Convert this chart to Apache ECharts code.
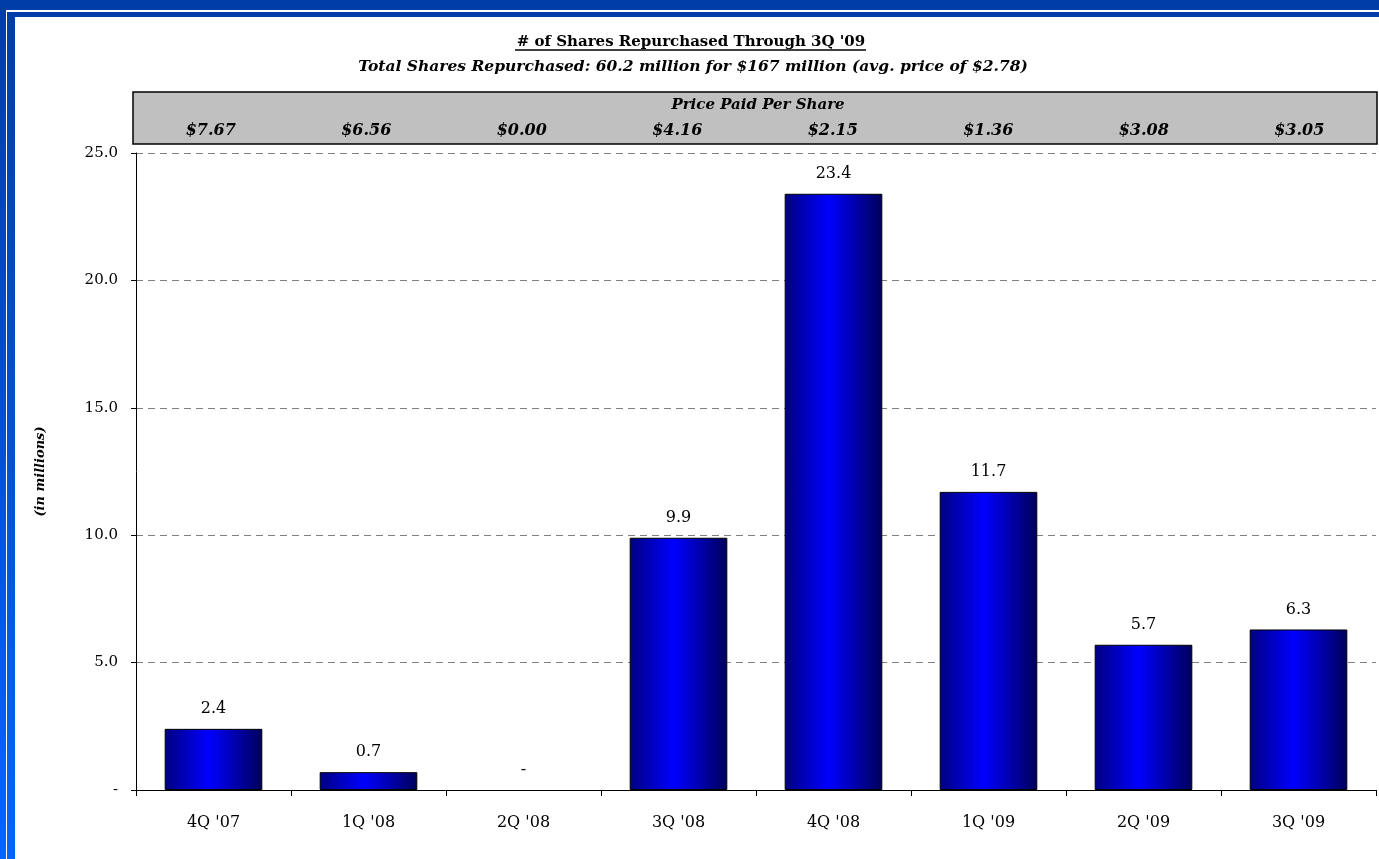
<!DOCTYPE html>
<html>
<head>
<meta charset="utf-8">
<script src="https://cdn.jsdelivr.net/npm/echarts@6/dist/echarts.min.js"></script>
<style>
  html, body { margin: 0; padding: 0; background: #fff; overflow: hidden; }
  #chart { position: absolute; left: 0; top: 0; width: 1379px; height: 859px; }
  .frame { position: absolute; }
</style>
</head>
<body>
<div id="chart"></div>
<!-- slide frame -->
<div class="frame" style="left:0;top:0;width:1379px;height:10px;background:#003da8"></div>
<div class="frame" style="left:7px;top:12px;width:1372px;height:5px;background:#003da8"></div>
<div class="frame" style="left:0;top:10px;width:6px;height:849px;background:linear-gradient(#003da8,#0066ff)"></div>
<div class="frame" style="left:7px;top:12px;width:8px;height:847px;background:linear-gradient(#003da8,#0066ff)"></div>

<script>
// 数据
const quarters = ["4Q '07", "1Q '08", "2Q '08", "3Q '08", "4Q '08", "1Q '09", "2Q '09", "3Q '09"]
const sharesRepurchased = [2.4, 0.7, 0, 9.9, 23.4, 11.7, 5.7, 6.3]
const pricePerShare = ['$7.67', '$6.56', '$0.00', '$4.16', '$2.15', '$1.36', '$3.08', '$3.05']

const serif = 'DejaVu Serif'
const chart = echarts.init(document.getElementById('chart'))

const option = {
  backgroundColor: 'transparent',
  animation: false,
  title: [
    {
      text: "# of Shares Repurchased Through 3Q '09",
      left: 686, top: 30, textAlign: 'center',
      textStyle: { fontFamily: serif, fontSize: 15, fontWeight: 'bold', color: '#000' }
    },
    {
      text: 'Total Shares Repurchased: 60.2 million for $167 million (avg. price of $2.78)',
      left: 688, top: 54, textAlign: 'center',
      textStyle: { fontFamily: serif, fontSize: 15.5, fontWeight: 'bold', fontStyle: 'italic', color: '#000' }
    },
    {
      text: 'Price Paid Per Share',
      left: 753, top: 93, textAlign: 'center',
      textStyle: { fontFamily: serif, fontSize: 15, fontWeight: 'bold', fontStyle: 'italic', color: '#000' }
    }
  ],
  // 标题下划线
  graphic: [
    {
      type: 'line',
      shape: { x1: 515, y1: 50, x2: 866, y2: 50 },
      style: { stroke: '#000', lineWidth: 1.5 }
    }
  ],
  grid: [
    { left: 136, right: 3, top: 153, bottom: 69 },
    {
      left: 133, right: 2, top: 92, height: 52,
      show: true, backgroundColor: '#c0c0c0', borderColor: '#000', borderWidth: 1.5
    }
  ],
  xAxis: [
    {
      type: 'category',
      gridIndex: 0,
      data: quarters,
      axisLine: { lineStyle: { color: '#000', width: 1 } },
      axisTick: { show: true, length: 6, lineStyle: { color: '#000' } },
      axisLabel: { color: '#000', fontFamily: serif, fontSize: 16, margin: 25 }
    },
    {
      type: 'category',
      gridIndex: 1,
      position: 'top',
      data: pricePerShare,
      axisLine: { show: false },
      axisTick: { show: false },
      axisLabel: {
        inside: true, margin: 31, color: '#000',
        fontFamily: serif, fontSize: 16, fontWeight: 'bold', fontStyle: 'italic'
      }
    }
  ],
  yAxis: [
    {
      type: 'value',
      gridIndex: 0,
      min: 0, max: 25, interval: 5,
      name: '(in millions)',
      nameLocation: 'middle',
      nameGap: 89,
      nameRotate: 90,
      nameTextStyle: { fontFamily: serif, fontSize: 13, fontWeight: 'bold', fontStyle: 'italic', color: '#000' },
      axisLine: { show: true, lineStyle: { color: '#000', width: 1 } },
      axisTick: { show: true, length: 5, lineStyle: { color: '#000' } },
      axisLabel: {
        color: '#000', fontFamily: serif, fontSize: 15, margin: 18,
        formatter: (v) => v === 0 ? '-' : v.toFixed(1)
      },
      splitLine: { lineStyle: { color: '#808080', type: [7, 5], width: 1 } }
    },
    { type: 'value', gridIndex: 1, show: false }
  ],
  series: [
    {
      name: 'Shares Repurchased',
      type: 'bar',
      xAxisIndex: 0,
      yAxisIndex: 0,
      // 0 值不画边框
      data: sharesRepurchased.map(v => v === 0 ? { value: v, itemStyle: { borderWidth: 0 } } : v),
      barWidth: '63%',
      itemStyle: {
        color: new echarts.graphic.LinearGradient(0, 0, 1, 0, [
          { offset: 0, color: '#000080' },
          { offset: 0.45, color: '#0000ff' },
          { offset: 1, color: '#00005a' }
        ]),
        borderColor: '#000',
        borderWidth: 1
      },
      label: {
        show: true,
        position: 'top',
        distance: 12,
        color: '#000',
        fontFamily: serif,
        fontSize: 16,
        formatter: (p) => p.value === 0 ? '-' : p.value.toFixed(1)
      }
    }
  ]
}

chart.setOption(option)
</script>
</body>
</html>
